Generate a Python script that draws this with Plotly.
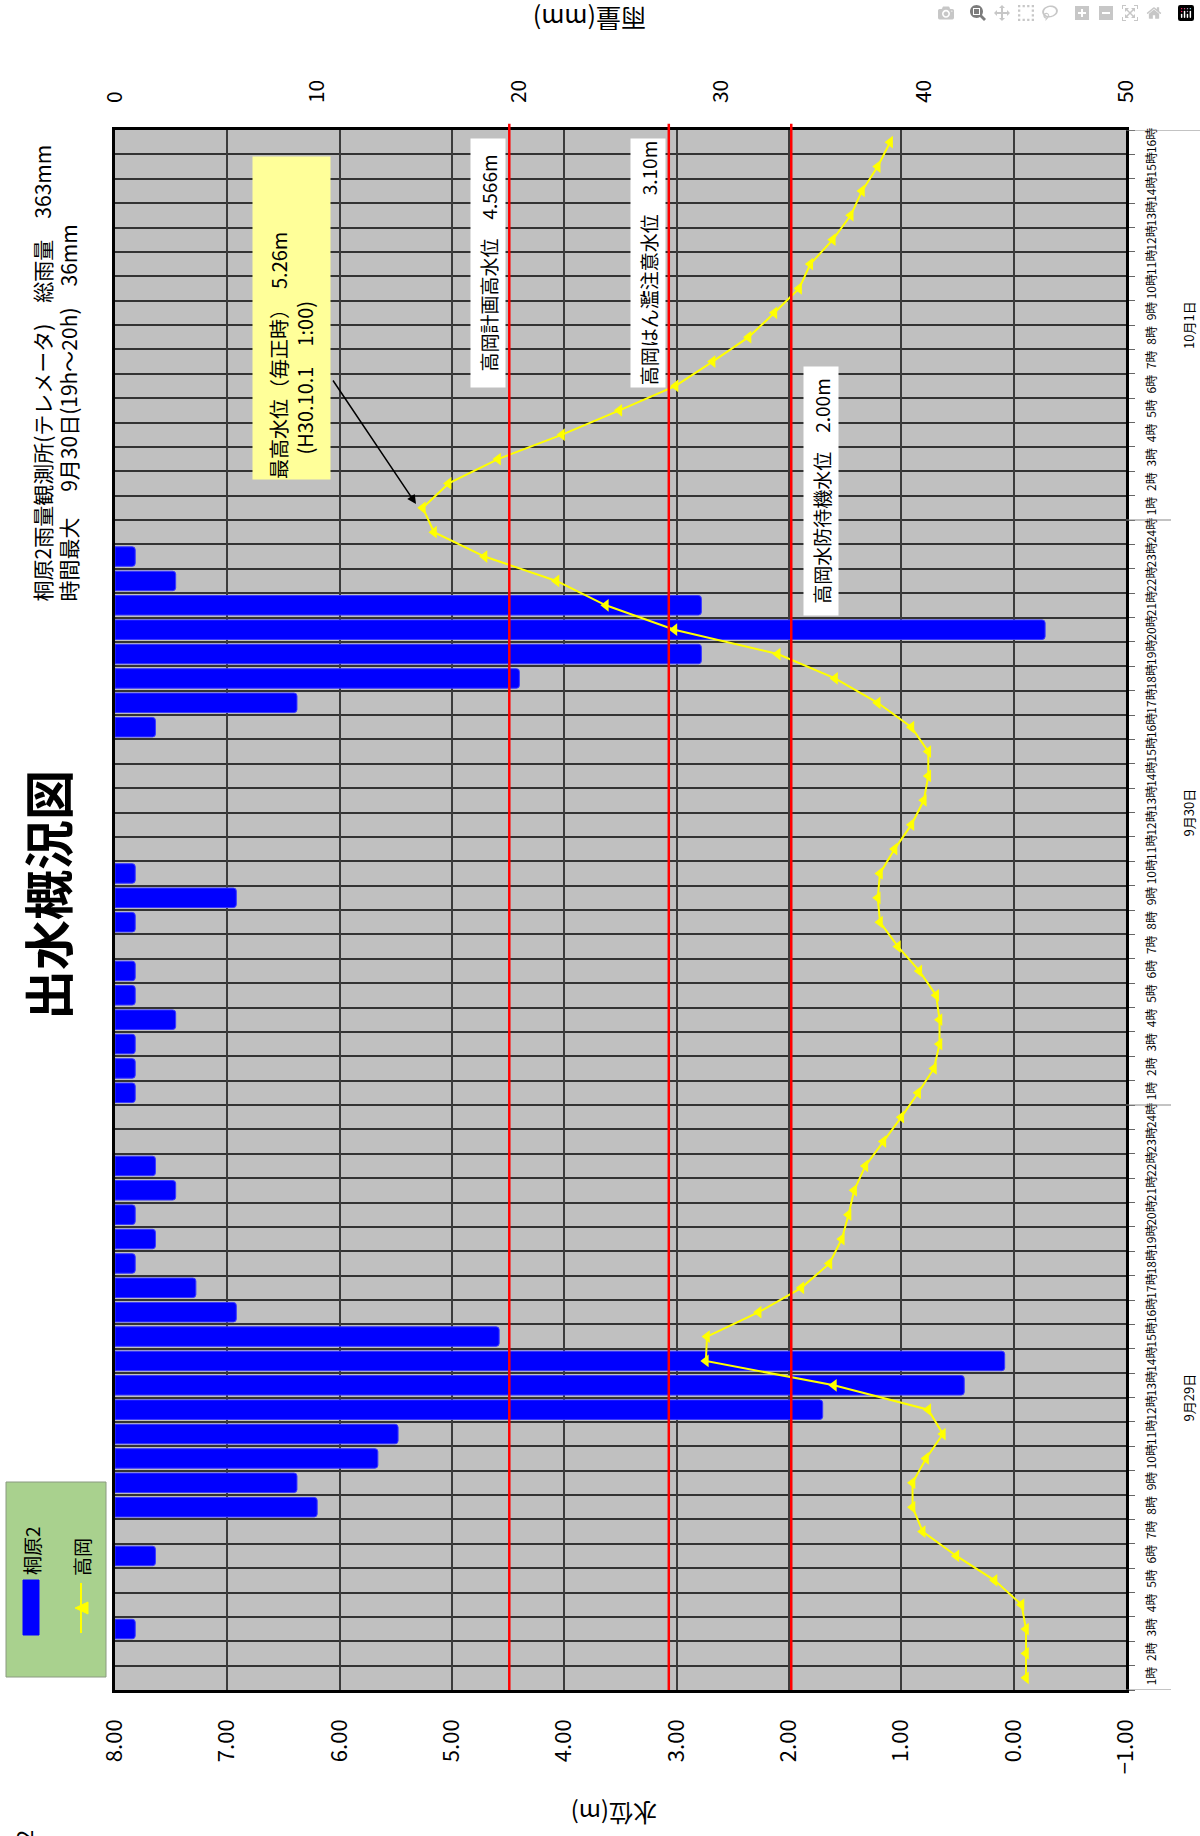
import plotly.graph_objects as go

# ---------------- data ----------------
days = ["9月29日", "9月30日", "10月1日"]
hours_per_day = [24, 24, 16]
hour_labels = [f"{h}時" for n in hours_per_day for h in range(1, n + 1)]

# rainfall (mm/h) at 桐原2
rain_0929 = [0, 0, 1, 0, 0, 2, 0, 10, 9, 13, 14, 35, 42, 44, 19, 6, 4, 1, 2, 1, 3, 2, 0, 0]
rain_0930 = [1, 1, 1, 3, 1, 1, 0, 1, 6, 1, 0, 0, 0, 0, 0, 2, 9, 20, 29, 46, 29, 3, 1, 0]
rain_1001 = [0] * 16

# water level (m) at 高岡
wl_0929 = [-0.11, -0.11, -0.11, -0.07, 0.17, 0.51, 0.81, 0.90, 0.90, 0.78, 0.63, 0.76,
           1.60, 2.74, 2.73, 2.27, 1.89, 1.64, 1.53, 1.47, 1.42, 1.32, 1.16, 1.00]
wl_0930 = [0.85, 0.71, 0.66, 0.66, 0.69, 0.84, 1.03, 1.19, 1.21, 1.19, 1.06, 0.91,
           0.80, 0.76, 0.76, 0.91, 1.21, 1.59, 2.10, 3.02, 3.63, 4.07, 4.71, 5.16]
wl_1001 = [5.26, 5.03, 4.59, 4.02, 3.51, 3.01, 2.68, 2.36, 2.13, 1.91, 1.81, 1.61,
           1.45, 1.35, 1.21, 1.10]

# reference water levels (drawn positions) and their labels
ref_levels = [4.49, 3.07, 1.98]
ref_labels = ["高岡計画高水位　4.566m", "高岡はん濫注意水位　3.10m", "高岡水防待機水位　2.00m"]

wl_ticks = [8, 7, 6, 5, 4, 3, 2, 1, 0, -1]
rain_ticks = [0, 10, 20, 30, 40, 50]

header1 = "桐原2雨量観測所(テレメータ)　総雨量　363mm"
header2 = "時間最大　 9月30日(19h～20h)　36mm"
title = "出水概況図"
peak_text = "最高水位（毎正時）　5.26m<br>　 (H30.10.1　1:00)"

# ---------------- layout helpers ----------------
W, H = 1200, 1836
L, R, T, B = 115, 1126, 130, 1690
FONT = "Noto Sans CJK JP"
NARROW = "Liberation Sans Narrow, Noto Sans CJK JP"


def px(x):
    return (x - L) / (R - L)


def py(y):
    return (B - y) / (B - T)


rain = rain_0929 + rain_0930 + rain_1001
wl = wl_0929 + wl_0930 + wl_1001
idx = list(range(len(hour_labels)))

fig = go.Figure()

fig.add_trace(go.Bar(
    y=idx, x=[v if v > 0 else None for v in rain], orientation="h",
    xaxis="x", yaxis="y", width=0.8,
    marker=dict(color="#0000FF", line=dict(color="#3a3aff", width=1), cornerradius=3),
    name="桐原2", showlegend=False,
))

fig.add_trace(go.Scatter(
    y=idx, x=wl, xaxis="x2", yaxis="y", mode="lines+markers",
    line=dict(color="#FFFF00", width=2),
    marker=dict(symbol="triangle-left", size=11, color="#FFFF00"),
    name="高岡", showlegend=False,
))

shapes = []
# reference lines
for lv in ref_levels:
    shapes.append(dict(type="line", xref="x2", yref="paper", x0=lv, x1=lv, y0=0, y1=1.004,
                       line=dict(color="#FF0000", width=2.5), layer="above"))

# day separators extending into label area
bounds = [-0.5]
acc = -0.5
for n in hours_per_day:
    acc += n
    bounds.append(acc)
for i, bnd in enumerate(bounds):
    x1 = px(1200) if i == len(bounds) - 1 else px(1171)
    shapes.append(dict(type="line", xref="paper", yref="y", x0=1, x1=x1, y0=bnd, y1=bnd,
                       line=dict(color="#888888", width=1)))

# legend box
shapes.append(dict(type="rect", xref="paper", yref="paper", x0=px(6), x1=px(106),
                   y0=py(1677), y1=py(1482), fillcolor="#A9D18E",
                   line=dict(color="#8a9a80", width=1)))
shapes.append(dict(type="rect", xref="paper", yref="paper", x0=px(23), x1=px(39),
                   y0=py(1635), y1=py(1580), fillcolor="#0000FF",
                   line=dict(color="#0000FF", width=1)))
shapes.append(dict(type="line", xref="paper", yref="paper", x0=px(81), x1=px(81),
                   y0=py(1633), y1=py(1583), line=dict(color="#FFFF00", width=2)))
shapes.append(dict(type="path", xref="paper", yref="paper",
                   path=f"M {px(75)} {py(1608)} L {px(88)} {py(1602)} L {px(88)} {py(1614)} Z",
                   fillcolor="#FFFF00", line=dict(color="#FFFF00", width=1)))

annotations = []


def ann(text, x, y, size, angle=-90, xanchor="center", yanchor="middle", family=FONT, **kw):
    d = dict(text=text, xref="paper", yref="paper", x=px(x), y=py(y), showarrow=False,
             textangle=angle, xanchor=xanchor, yanchor=yanchor,
             font=dict(family=family, size=size, color="black"))
    d.update(kw)
    annotations.append(d)


ann("<b>" + title + "</b>", 46, 895, 50)
ann(header1, 41, 604, 21, yanchor="bottom")
ann(header2, 67, 604, 21, yanchor="bottom")

# legend texts
ann("桐原2", 31, 1551, 19)
ann("高岡", 81, 1557, 19)

# axis titles
ann("水位(m)", 614, 1815, 24, angle=180)
ann("雨量(mm)", 590, 20, 25, angle=180)

# page number (cut at the page edge, as in the original)
ann("2", 23, 1836, 22)

# date labels
start = 0
for d, n in zip(days, hours_per_day):
    mid = start + (n - 1) / 2
    annotations.append(dict(text=d, xref="paper", yref="y", x=px(1188), y=mid,
                            showarrow=False, textangle=-90, xanchor="center", yanchor="middle",
                            font=dict(family=NARROW, size=13, color="black")))
    start += n

# reference label boxes
ref_box_centers = [(488, 263), (648, 263), (821, 491)]
for lab, (cx, cy) in zip(ref_labels, ref_box_centers):
    ann(lab, cx, cy, 19, width=248, height=34, bgcolor="white", borderpad=0, align="center")

# peak water level box
ann(peak_text, 291, 318, 20, width=322, height=77, bgcolor="#FFFF99", borderpad=0,
    align="left", valign="middle")

# arrow
annotations.append(dict(text="", xref="paper", yref="paper", x=px(416), y=py(504),
                        ax=-84, ay=-125, showarrow=True, arrowhead=2, arrowsize=1.2,
                        arrowwidth=1.5, arrowcolor="black"))

fig.update_layout(
    width=W, height=H,
    margin=dict(l=L, r=W - R, t=T, b=H - B, pad=0),
    paper_bgcolor="white", plot_bgcolor="#C0C0C0",
    font=dict(family=FONT, color="black"),
    showlegend=False, bargap=0.2,
    xaxis=dict(
        range=[0, 50], side="top", tickvals=rain_ticks, tickangle=-90,
        tickfont=dict(size=21), ticks="", ticklabelstandoff=20,
        showgrid=False, zeroline=False,
        showline=True, linecolor="black", linewidth=2.5, mirror=True,
    ),
    xaxis2=dict(
        range=[8, -1], overlaying="x", side="bottom", tickvals=wl_ticks, tickformat=".2f",
        tickangle=-90, tickfont=dict(size=22), ticks="", ticklabelstandoff=24,
        showgrid=True, gridcolor="#3c3c3c", gridwidth=1.5, zeroline=False,
        showline=False,
    ),
    yaxis=dict(
        range=[-0.5, len(idx) - 0.5], side="right", tickvals=idx, ticktext=hour_labels,
        tickangle=-90, tickfont=dict(size=12, family=NARROW), ticks="", ticklabelstandoff=13,
        showgrid=False, zeroline=False,
        showline=True, linecolor="black", linewidth=2.5, mirror=True,
        minor=dict(tickmode="array", tickvals=[i - 0.5 for i in range(len(idx) + 1)],
                   showgrid=True, gridcolor="#333333", gridwidth=1.5,
                   ticks="outside", ticklen=6, tickcolor="#666666"),
    ),
    shapes=shapes, annotations=annotations,
)

fig.write_html("out.html", post_script="document.body.style.margin='0';")
